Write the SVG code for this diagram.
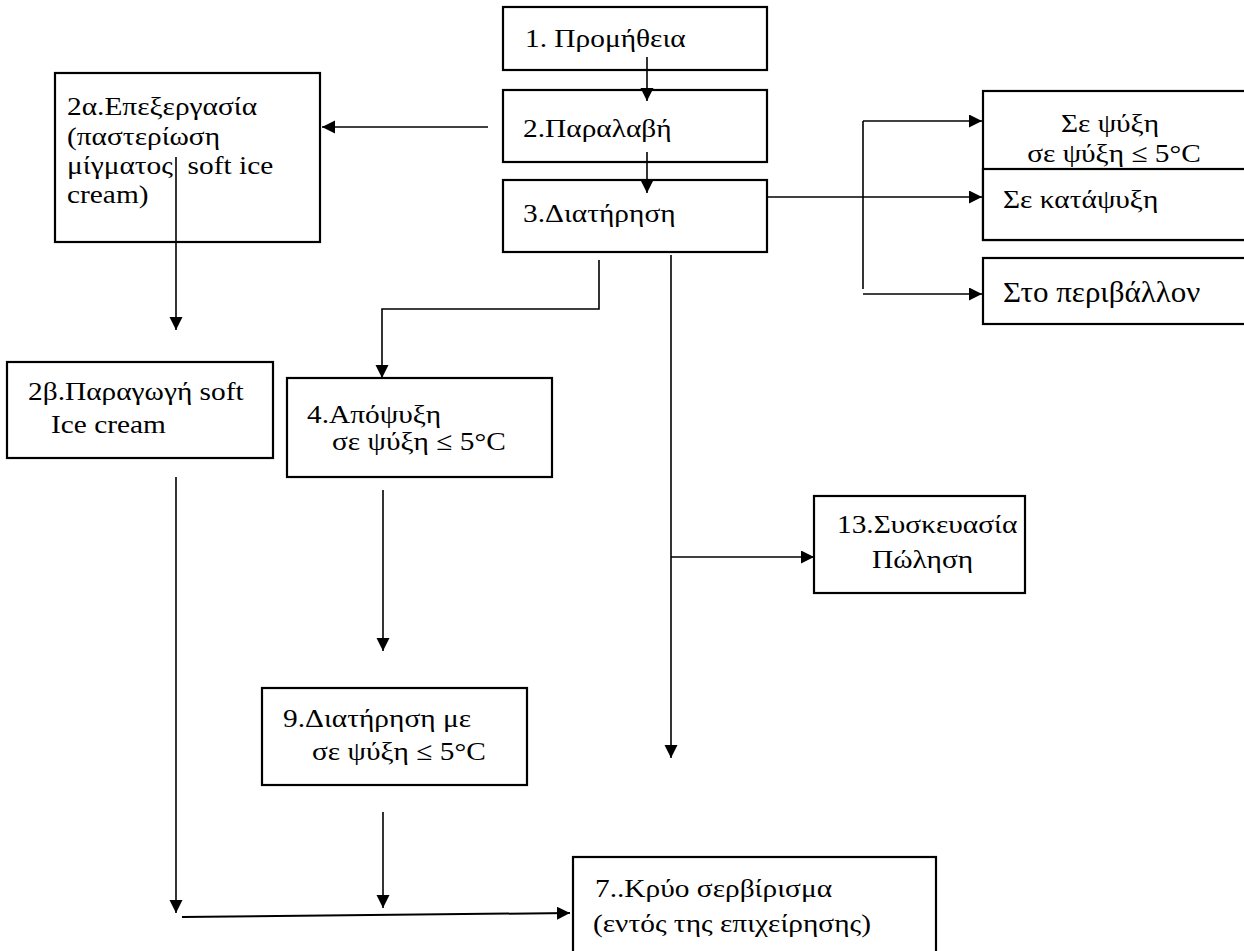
<svg xmlns="http://www.w3.org/2000/svg" width="1244" height="951" viewBox="0 0 1244 951">
<defs>
<marker id="ah" markerUnits="userSpaceOnUse" markerWidth="14" markerHeight="14" refX="13" refY="6.5" orient="auto">
<path d="M0,0 L13,6.5 L0,13 z" fill="#000"/>
</marker>
</defs>
<style>
.box{fill:#fff;stroke:#000;stroke-width:2.2}
.t{font-size:26px;fill:#000}
.c{fill:none;stroke:#000;stroke-width:1.6}
.a{marker-end:url(#ah)}
</style>
<rect width="1244" height="951" fill="#fff"/>
<g id="nodes" font-family="'Liberation Serif', 'Times New Roman', serif">
<g id="n1"><rect class="box" x="503" y="7" width="264" height="63"/><text class="t" transform="translate(525 47) scale(1.13 1)">1. Προμήθεια</text></g>
<g id="n2"><rect class="box" x="503" y="90" width="264" height="72"/><text class="t" transform="translate(523 137) scale(1.13 1)">2.Παραλαβή</text></g>
<g id="n3"><rect class="box" x="503" y="180" width="264" height="72"/><text class="t" transform="translate(523 222) scale(1.13 1)">3.Διατήρηση</text></g>
<g id="n2a"><rect class="box" x="55" y="73" width="265" height="169"/>
<text class="t" transform="translate(67 115) scale(1.13 1)">2α.Επεξεργασία</text>
<text class="t" transform="translate(67 145) scale(1.13 1)">(παστερίωση</text>
<text class="t" transform="translate(67 174) scale(1.13 1)">μίγματος&#160; soft ice</text>
<text class="t" transform="translate(67 203) scale(1.13 1)">cream)</text></g>
<g id="nfridge"><rect class="box" x="983" y="91" width="270" height="149"/>
<text class="t" text-anchor="middle" transform="translate(1110 132) scale(1.13 1)">Σε ψύξη</text>
<text class="t" text-anchor="middle" transform="translate(1114 162) scale(1.13 1)">σε ψύξη ≤ 5°C</text></g>
<g id="nfreeze"><rect class="box" x="983" y="169" width="270" height="71"/>
<text class="t" transform="translate(1003 208) scale(1.13 1)">Σε κατάψυξη</text></g>
<g id="nambient"><rect class="box" x="983" y="258" width="270" height="66"/>
<text class="t" style="font-size:29px" transform="translate(1003 302) scale(1.07 1)">Στο περιβάλλον</text></g>
<g id="n2b"><rect class="box" x="7" y="362" width="266" height="96"/>
<text class="t" transform="translate(28 400) scale(1.13 1)">2β.Παραγωγή soft</text>
<text class="t" transform="translate(51 433) scale(1.13 1)">Ice cream</text></g>
<g id="n4"><rect class="box" x="287" y="378" width="265" height="99"/>
<text class="t" transform="translate(307 423) scale(1.13 1)">4.Απόψυξη</text>
<text class="t" transform="translate(332 450) scale(1.13 1)">σε ψύξη ≤ 5°C</text></g>
<g id="n13"><rect class="box" x="814" y="496" width="211" height="97"/>
<text class="t" transform="translate(837 533) scale(1.13 1)">13.Συσκευασία</text>
<text class="t" transform="translate(872 568) scale(1.13 1)">Πώληση</text></g>
<g id="n9"><rect class="box" x="262" y="688" width="265" height="97"/>
<text class="t" transform="translate(283 727) scale(1.13 1)">9.Διατήρηση με</text>
<text class="t" transform="translate(312 760) scale(1.13 1)">σε ψύξη ≤ 5°C</text></g>
<g id="n7"><rect class="box" x="573" y="857" width="363" height="110"/>
<text class="t" transform="translate(595 897) scale(1.13 1)">7..Κρύο σερβίρισμα</text>
<text class="t" transform="translate(593 932) scale(1.13 1)">(εντός της επιχείρησης)</text></g>
</g>
<g id="connectors">
<line class="c a" x1="647" y1="57" x2="647" y2="101"/>
<line class="c a" x1="647" y1="152" x2="647" y2="193"/>
<line class="c a" x1="488" y1="127" x2="322" y2="127"/>
<line class="c a" x1="176" y1="157" x2="176" y2="330"/>
<line class="c" x1="767" y1="197" x2="863" y2="197"/>
<line class="c a" x1="863" y1="197" x2="982" y2="197"/>
<polyline class="c" points="863,289 863,121"/>
<line class="c a" x1="863" y1="121" x2="982" y2="121"/>
<line class="c a" x1="863" y1="294" x2="982" y2="294"/>
<polyline class="c a" points="599,260 599,309 382,309 382,378"/>
<line class="c a" x1="671" y1="255" x2="671" y2="758"/>
<line class="c a" x1="671" y1="557" x2="814" y2="557"/>
<line class="c a" x1="383" y1="490" x2="383" y2="651"/>
<line class="c a" x1="383" y1="812" x2="383" y2="908"/>
<line class="c a" x1="176" y1="477" x2="176" y2="913"/>
<line class="c a" x1="182" y1="917" x2="570" y2="913" style="stroke-width:2"/>
</g>
</svg>
